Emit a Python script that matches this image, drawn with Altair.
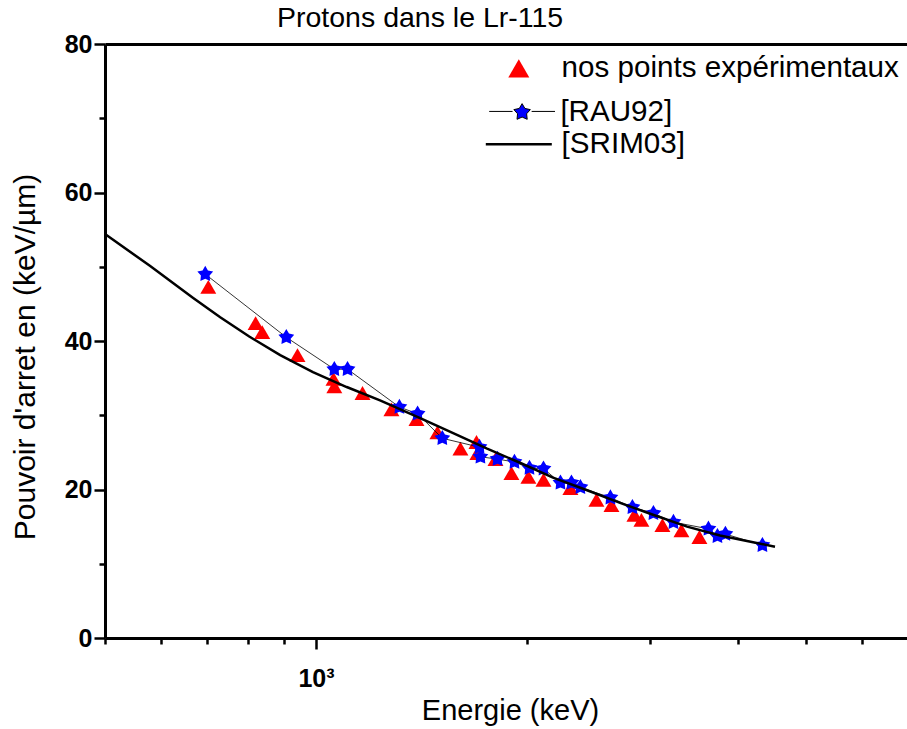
import altair as alt
import pandas as pd

# ---------------- data ----------------
exp_energy = [702, 820, 838, 941, 1059, 1062, 1165, 1281, 1391, 1490, 1607, 1694, 1699,
              1803, 1900, 2009, 2111, 2306, 2512, 2639, 2846, 2912, 3120, 3321, 3523]
exp_stopping = [47.3, 42.4, 41.2, 38.1, 34.9, 33.9, 33.0, 30.8, 29.5, 27.7, 25.5, 26.4, 24.9,
                24.1, 22.2, 21.7, 21.3, 20.2, 18.6, 17.9, 16.6, 15.9, 15.2, 14.5, 13.6]

rau_energy = [695, 907, 1062, 1109, 1315, 1396, 1514, 1711, 1716, 1815, 1919, 2016, 2111,
              2232, 2314, 2383, 2630, 2827, 3029, 3235, 3629, 3738, 3837, 4333]
rau_stopping = [49.0, 40.5, 36.2, 36.2, 31.1, 30.2, 26.9, 25.7, 24.4, 24.1, 23.7, 22.9, 22.8,
                20.9, 20.9, 20.3, 18.9, 17.6, 16.8, 15.6, 14.7, 13.7, 14.0, 12.5]

srim_energy = [500, 580, 668, 730, 803, 889, 990, 1106, 1234, 1408, 1569, 1754, 1954, 2178,
               2436, 2715, 3025, 3383, 3770, 4202, 4516]
srim_stopping = [54.4, 50.1, 45.8, 43.2, 40.6, 38.1, 35.8, 33.8, 32.0, 29.6, 27.6, 25.5, 23.6,
                 21.6, 19.9, 18.2, 16.6, 15.0, 13.8, 12.9, 12.3]

series_names = ["nos points expérimentaux", "[RAU92]", "[SRIM03]"]
x_major_ticks = [1000]
x_minor_ticks = [500, 600, 700, 800, 900, 2000, 3000, 4000, 5000, 6000]
y_major_ticks = [0, 20, 40, 60, 80]
y_minor_ticks = [10, 30, 50, 70]
x_domain = [500, 6967]
y_domain = [0, 80]

# ---------------- styling ----------------
FONT = "Liberation Sans"
TRI = "M0,-0.91L1.05,0.91L-1.05,0.91Z"
STAR = ("M0,-1L0.323,-0.445L0.951,-0.309L0.523,0.17L0.588,0.809L0,0.55"
        "L-0.588,0.809L-0.523,0.17L-0.951,-0.309L-0.323,-0.445Z")
STAR_LEG = "M-3.8,-0.1H-1.1M1.1,-0.1H3.8" + STAR
LINE_LEG = "M-3.3,0H3.3"

exp_df = pd.DataFrame({"E": exp_energy, "S": exp_stopping, "serie": series_names[0]})
rau_df = pd.DataFrame({"E": rau_energy, "S": rau_stopping, "serie": series_names[1]})
srim_df = pd.DataFrame({"E": srim_energy, "S": srim_stopping, "serie": series_names[2]})

xs = alt.Scale(type="log", domain=x_domain, nice=False)
ys = alt.Scale(domain=y_domain, nice=False, zero=False)

axis_common = dict(domainColor="black", tickColor="black", domainWidth=3, tickWidth=2.5,
                   grid=False, labelFont=FONT, labelFontWeight="bold", labelFontSize=25,
                   labelColor="black", titleFont=FONT,
                   titleFontWeight="normal", titleColor="black")

x_main = alt.Axis(orient="bottom", values=x_major_ticks, tickSize=11, labelExpr="'10³'",
                  labelPadding=17, labelFlush=False, title="Energie (keV)", titleX=405,
                  titleY=81, titleAlign="center", titleBaseline="alphabetic",
                  titleFontSize=29, **axis_common)
x_minor = alt.Axis(orient="bottom", values=x_minor_ticks, tickSize=6, labels=False,
                   domain=False, title=None, tickColor="black", tickWidth=2.5, grid=False)
x_top = alt.Axis(orient="top", ticks=False, labels=False, domain=True, domainColor="black",
                 domainWidth=3, title=None, grid=False)
y_main = alt.Axis(orient="left", values=y_major_ticks, tickSize=11, labelPadding=2,
                  title="Pouvoir d'arret en (keV/µm)", titleX=-71, titleY=312.5,
                  titleAngle=270, titleAlign="center", titleBaseline="alphabetic",
                  titleFontSize=30, **axis_common)
y_minor = alt.Axis(orient="left", values=y_minor_ticks, tickSize=6, labels=False,
                   domain=False, title=None, tickColor="black", tickWidth=2.5, grid=False)

legend_common = dict(title=None, orient="none", labelFont=FONT,
                     labelFontSize=29.6, labelColor="black", labelLimit=700, padding=0)

tri = alt.Chart(exp_df).mark_point(filled=True, size=231, shape=TRI, opacity=1).encode(
    x=alt.X("E:Q", scale=xs, axis=x_minor),
    y=alt.Y("S:Q", scale=ys, axis=y_minor),
    color=alt.Color("serie:N", scale=alt.Scale(domain=[series_names[0]], range=["#ff0000"]),
                    legend=alt.Legend(symbolType=TRI, symbolSize=400, legendX=399,
                                      legendY=9.5, labelOffset=28, **legend_common)),
)

rau_line = alt.Chart(rau_df).mark_line(color="black", strokeWidth=0.8).encode(
    x=alt.X("E:Q", scale=xs, axis=x_top),
    y=alt.Y("S:Q", scale=ys, axis=None),
)

stars = alt.Chart(rau_df).mark_point(filled=True, size=276, shape=STAR_LEG, color="#0000ff",
                                     stroke="black", strokeWidth=0).encode(
    x=alt.X("E:Q", scale=xs, axis=None),
    y=alt.Y("S:Q", scale=ys, axis=None),
    opacity=alt.Opacity("serie:N", scale=alt.Scale(domain=[series_names[1]], range=[1]),
                        legend=alt.Legend(symbolType=STAR_LEG, symbolStrokeWidth=1,
                                          symbolFillColor="#0000ff", symbolSize=300,
                                          legendX=402.3, legendY=53.5, labelOffset=23.5,
                                          **legend_common)),
)

srim = alt.Chart(srim_df).mark_line(strokeWidth=2.5).encode(
    x=alt.X("E:Q", scale=xs, axis=x_main),
    y=alt.Y("S:Q", scale=ys, axis=y_main),
    stroke=alt.Stroke("serie:N", scale=alt.Scale(domain=[series_names[2]], range=["black"]),
                      legend=alt.Legend(symbolType=LINE_LEG, symbolStrokeWidth=2.5,
                                        symbolSize=400, legendX=399, legendY=85.5,
                                        labelOffset=28, **legend_common)),
)

chart = alt.layer(tri, rau_line, stars, srim).resolve_axis(
    x="independent", y="independent"
).properties(
    width=802, height=594,
    padding={"left": 105, "top": 44, "right": 0, "bottom": 91},
    autosize=alt.AutoSizeParams(type="none"),
    background="white",
    title=alt.TitleParams(text="Protons dans le Lr-115", font=FONT, fontSize=28.5,
                          fontWeight="normal", color="black", anchor="start", dx=172,
                          offset=0, frame="group"),
).configure_view(stroke=None)

chart.save("out.html", embed_options={"renderer": "svg", "actions": False})
